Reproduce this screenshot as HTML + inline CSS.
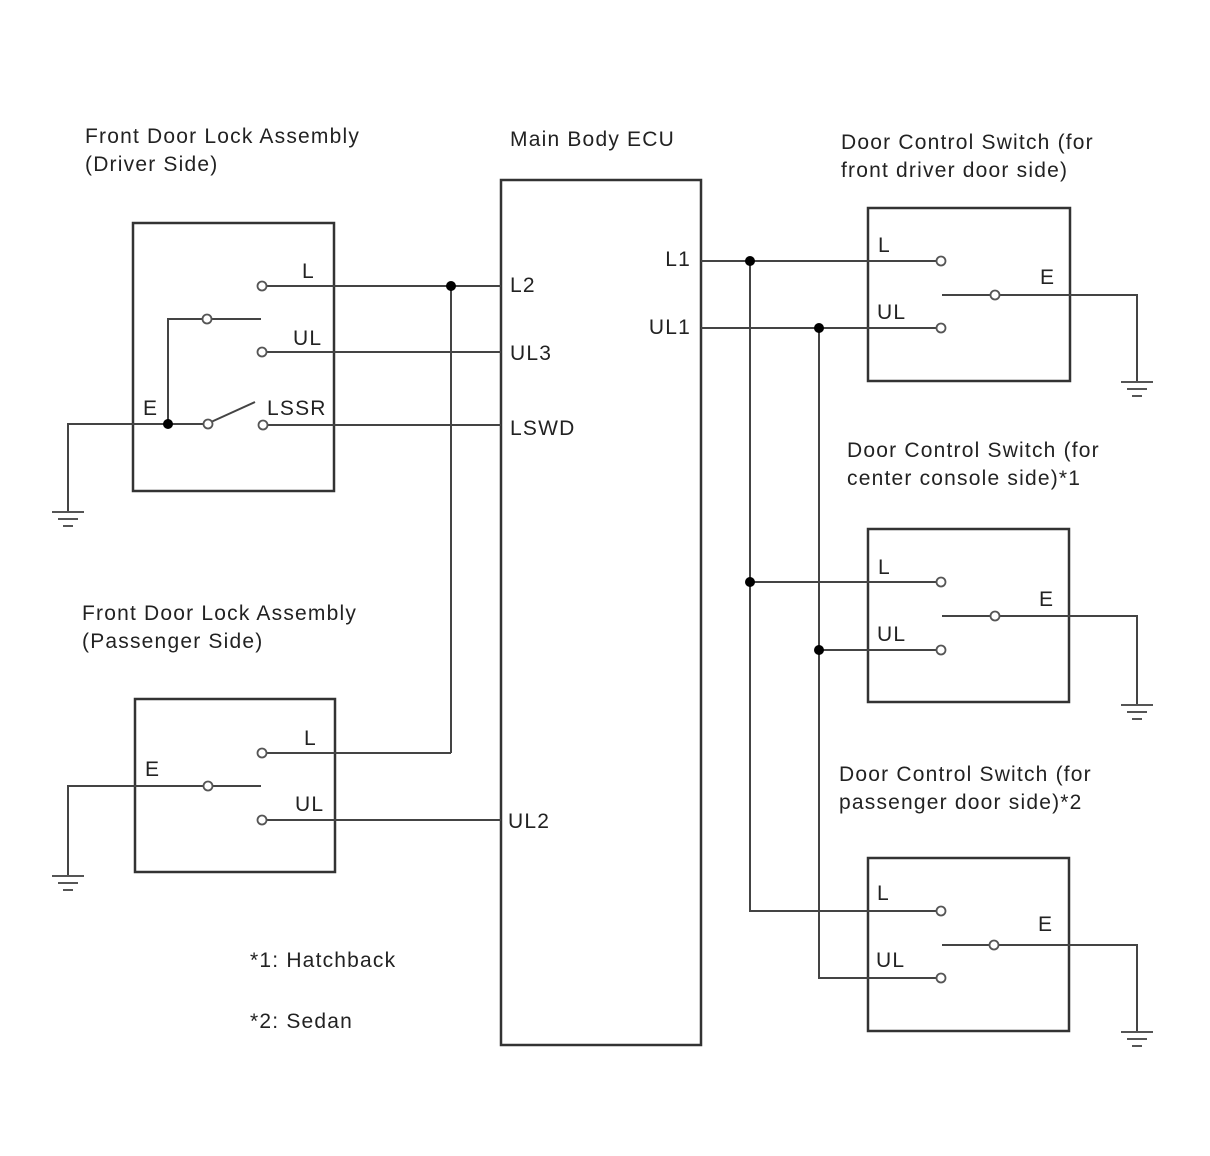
<!DOCTYPE html><html><head><style>body{margin:0;background:#fff}svg{display:block}text{font-family:"Liberation Sans",sans-serif;font-size:21px;letter-spacing:1.2px;fill:#222}</style></head><body>
<svg width="1210" height="1156" viewBox="0 0 1210 1156" xmlns="http://www.w3.org/2000/svg">
<defs><g id="gnd" stroke="#555" stroke-width="2"><line x1="-16" y1="0" x2="16" y2="0"/><line x1="-10" y1="7" x2="10" y2="7"/><line x1="-5" y1="14" x2="5" y2="14"/></g></defs>
<g fill="none" stroke="#333" stroke-width="2.5">
<rect x="133" y="223" width="201" height="268"/>
<rect x="135" y="699" width="200" height="173"/>
<rect x="501" y="180" width="200" height="865"/>
<rect x="868" y="208" width="202" height="173"/>
<rect x="868" y="529" width="201" height="173"/>
<rect x="868" y="858" width="201" height="173"/>
</g>
<g fill="none" stroke="#444" stroke-width="2">
<line x1="266" y1="286" x2="501" y2="286"/><line x1="451" y1="286" x2="451" y2="753"/>
<line x1="212" y1="319" x2="261" y2="319"/><polyline points="203,319 168,319 168,424"/>
<line x1="266" y1="352" x2="501" y2="352"/>
<polyline points="68,512 68,424 204,424"/><line x1="211" y1="422" x2="255" y2="402"/>
<line x1="267" y1="425" x2="501" y2="425"/>
<line x1="266" y1="753" x2="451" y2="753"/>
<polyline points="68,876 68,786 204,786"/><line x1="212" y1="786" x2="261" y2="786"/>
<line x1="266" y1="820" x2="501" y2="820"/>
<line x1="701" y1="261" x2="937" y2="261"/><line x1="701" y1="328" x2="937" y2="328"/>
<polyline points="750,261 750,911 937,911"/><polyline points="819,328 819,978 937,978"/>
<line x1="750" y1="582" x2="937" y2="582"/><line x1="819" y1="650" x2="937" y2="650"/>
<line x1="942" y1="295" x2="991" y2="295"/><polyline points="999,295 1137,295 1137,382"/>
<line x1="942" y1="616" x2="991" y2="616"/><polyline points="999,616 1137,616 1137,705"/>
<line x1="942" y1="945" x2="990" y2="945"/><polyline points="998,945 1137,945 1137,1032"/>
</g>
<use href="#gnd" x="68" y="512"/><use href="#gnd" x="68" y="876"/>
<use href="#gnd" x="1137" y="382"/><use href="#gnd" x="1137" y="705"/><use href="#gnd" x="1137" y="1032"/>
<g fill="#fff" stroke="#555" stroke-width="1.8">
<circle cx="262" cy="286" r="4.5"/><circle cx="207" cy="319" r="4.5"/><circle cx="262" cy="352" r="4.5"/><circle cx="208" cy="424" r="4.5"/><circle cx="263" cy="425" r="4.5"/>
<circle cx="262" cy="753" r="4.5"/><circle cx="208" cy="786" r="4.5"/><circle cx="262" cy="820" r="4.5"/>
<circle cx="941" cy="261" r="4.5"/><circle cx="941" cy="328" r="4.5"/><circle cx="995" cy="295" r="4.5"/>
<circle cx="941" cy="582" r="4.5"/><circle cx="941" cy="650" r="4.5"/><circle cx="995" cy="616" r="4.5"/>
<circle cx="941" cy="911" r="4.5"/><circle cx="941" cy="978" r="4.5"/><circle cx="994" cy="945" r="4.5"/>
</g>
<g fill="#000"><circle cx="451" cy="286" r="5"/><circle cx="168" cy="424" r="5"/><circle cx="750" cy="261" r="5"/><circle cx="819" cy="328" r="5"/><circle cx="750" cy="582" r="5"/><circle cx="819" cy="650" r="5"/></g>
<text x="85" y="143">Front Door Lock Assembly</text><text x="85" y="171">(Driver Side)</text>
<text x="510" y="146">Main Body ECU</text>
<text x="841" y="149">Door Control Switch (for</text><text x="841" y="177">front driver door side)</text>
<text x="847" y="457">Door Control Switch (for</text><text x="847" y="485">center console side)*1</text>
<text x="839" y="781">Door Control Switch (for</text><text x="839" y="809">passenger door side)*2</text>
<text x="82" y="620">Front Door Lock Assembly</text><text x="82" y="648">(Passenger Side)</text>
<text x="250" y="967">*1: Hatchback</text><text x="250" y="1028">*2: Sedan</text>
<text x="302" y="278">L</text><text x="293" y="345">UL</text><text x="143" y="415">E</text><text x="267" y="415">LSSR</text>
<text x="304" y="745">L</text><text x="295" y="811">UL</text><text x="145" y="776">E</text>
<text x="510" y="292">L2</text><text x="510" y="360">UL3</text><text x="510" y="435">LSWD</text><text x="508" y="828">UL2</text>
<text x="691" y="266" text-anchor="end">L1</text><text x="691" y="334" text-anchor="end">UL1</text>
<text x="878" y="252">L</text><text x="877" y="319">UL</text><text x="1040" y="284">E</text>
<text x="878" y="574">L</text><text x="877" y="641">UL</text><text x="1039" y="606">E</text>
<text x="877" y="900">L</text><text x="876" y="967">UL</text><text x="1038" y="931">E</text>
</svg></body></html>
